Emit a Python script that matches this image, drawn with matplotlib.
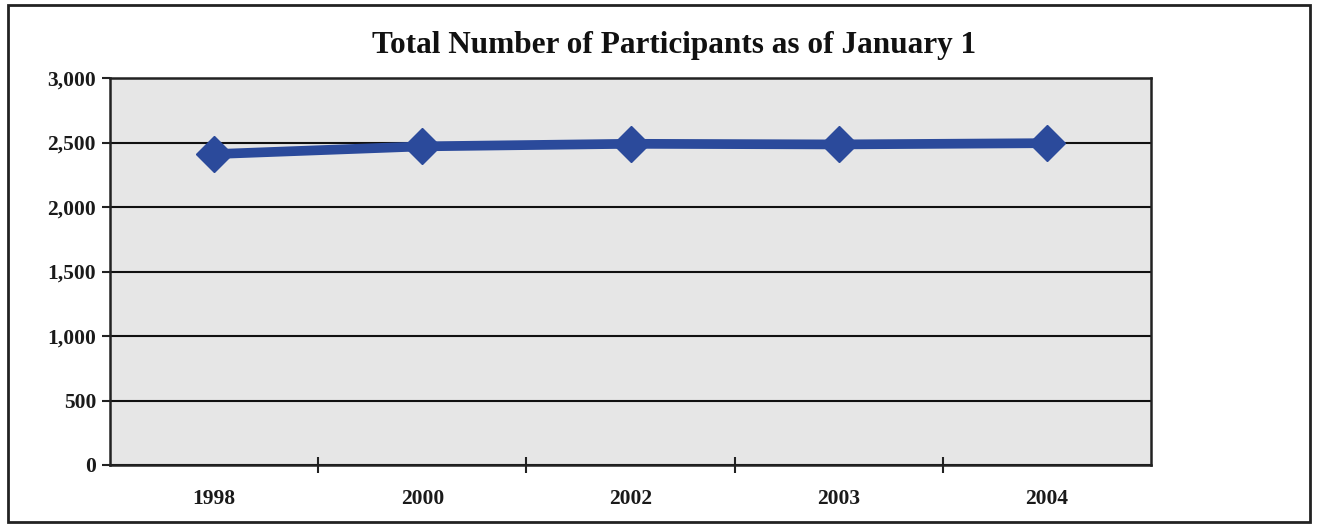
import matplotlib
matplotlib.use("Agg")
import matplotlib.pyplot as plt
from matplotlib.patches import Rectangle
from matplotlib.ticker import FuncFormatter, FixedLocator

# Participants counted on January 1 of each year
years = ["1998", "2000", "2002", "2003", "2004"]
participants = [2410, 2470, 2490, 2485, 2495]
y_ticks = [0, 500, 1000, 1500, 2000, 2500, 3000]

W, H = 1319, 525
fig = plt.figure(figsize=(W / 100, H / 100), dpi=100)
fig.patch.set_facecolor("white")

# outer chart frame
fig.patches.append(Rectangle((8 / W, 1 - 522 / H), (1310 - 8) / W, (522 - 5) / H,
                             transform=fig.transFigure, fill=False,
                             edgecolor="#222222", linewidth=2.0))

left, right, top, bottom = 110, 1151, 78, 465
ax = fig.add_axes([left / W, 1 - bottom / H, (right - left) / W, (bottom - top) / H])
ax.set_facecolor("#e6e6e6")

x = list(range(len(years)))
ax.plot(x, participants, color="#2b4a9b", linewidth=7, marker="D",
        markersize=18, markerfacecolor="#2b4a9b", markeredgecolor="#2b4a9b",
        solid_capstyle="butt", zorder=3)

ax.set_xlim(-0.5, len(years) - 0.5)
ax.set_ylim(0, 3000)
ax.set_yticks(y_ticks)
ax.yaxis.set_major_formatter(FuncFormatter(lambda v, p: f"{int(v):,}"))
ax.grid(axis="y", color="#111111", linewidth=1.5)
ax.set_axisbelow(True)

ax.set_xticks(x)
ax.set_xticklabels(years)
ax.xaxis.set_minor_locator(FixedLocator([i + 0.5 for i in range(len(years) - 1)]))
ax.tick_params(axis="x", which="major", length=0, pad=17)
ax.tick_params(axis="x", which="minor", direction="inout", length=12, width=1.5, color="#222222")
ax.tick_params(axis="y", direction="out", length=6, width=1.5, color="#222222", pad=4)

for sp in ax.spines.values():
    sp.set_color("#222222")
    sp.set_linewidth(1.8)

for lab in ax.get_xticklabels() + ax.get_yticklabels():
    lab.set_fontfamily("Liberation Serif")
    lab.set_fontweight("bold")
    lab.set_fontsize(15.5)
    lab.set_color("#1a1a1a")

fig.text(674 / W, 1 - 46 / H,
         "Total Number of Participants as of January 1",
         ha="center", va="center", fontsize=22.5, fontweight="bold",
         fontfamily="Liberation Serif", color="#111111")

fig.savefig("out.png", dpi=100)
